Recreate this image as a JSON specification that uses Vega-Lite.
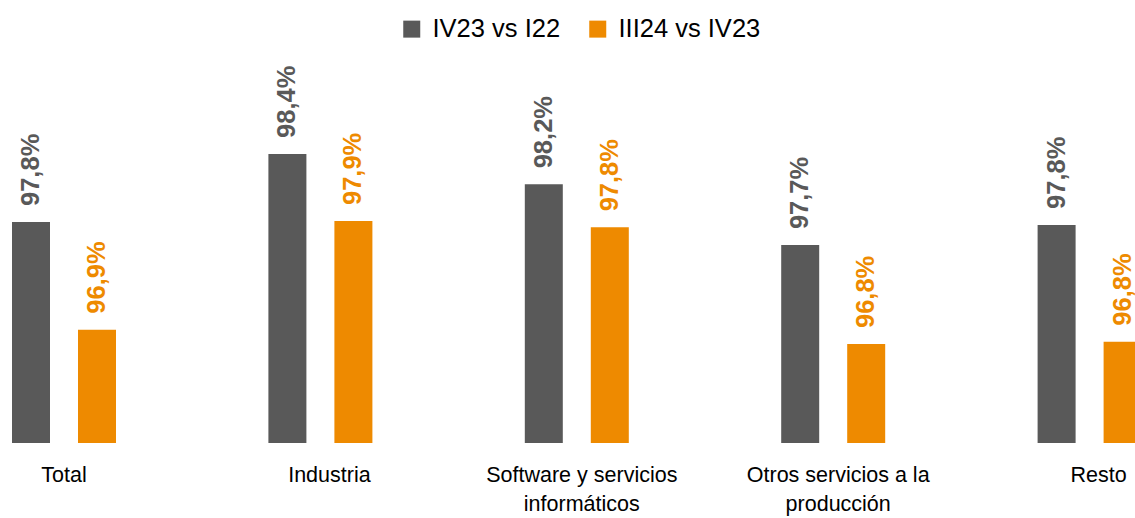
{
  "$schema": "https://vega.github.io/schema/vega-lite/v6.json",
  "autosize": {"type": "none"},
  "padding": {"left": 0, "top": 60, "right": 0, "bottom": 75},
  "width": 1135,
  "height": 383,
  "background": "white",
  "config": {"view": {"stroke": null}},
  "data": {
    "values": [
      {"cat": "Total", "serie": "IV23 vs I22", "v": 97.815, "label": "97,8%"},
      {"cat": "Total", "serie": "III24 vs IV23", "v": 96.906, "label": "96,9%"},
      {"cat": "Industria", "serie": "IV23 vs I22", "v": 98.389, "label": "98,4%"},
      {"cat": "Industria", "serie": "III24 vs IV23", "v": 97.823, "label": "97,9%"},
      {"cat": "Software y servicios informáticos", "serie": "IV23 vs I22", "v": 98.133, "label": "98,2%"},
      {"cat": "Software y servicios informáticos", "serie": "III24 vs IV23", "v": 97.77, "label": "97,8%"},
      {"cat": "Otros servicios a la producción", "serie": "IV23 vs I22", "v": 97.62, "label": "97,7%"},
      {"cat": "Otros servicios a la producción", "serie": "III24 vs IV23", "v": 96.785, "label": "96,8%"},
      {"cat": "Resto", "serie": "IV23 vs I22", "v": 97.79, "label": "97,8%"},
      {"cat": "Resto", "serie": "III24 vs IV23", "v": 96.805, "label": "96,8%"}
    ]
  },
  "encoding": {
    "x": {
      "field": "cat",
      "type": "nominal",
      "sort": ["Total", "Industria", "Software y servicios informáticos", "Otros servicios a la producción", "Resto"],
      "scale": {"range": [-64.2, 1217.8], "paddingInner": 0.0796, "paddingOuter": 0.0398},
      "axis": {
        "title": null,
        "domain": false,
        "ticks": false,
        "labelAngle": 0,
        "labelFont": "Liberation Sans",
        "labelFontSize": 21.5,
        "labelColor": "#000000",
        "labelPadding": 21,
        "labelLineHeight": 29,
        "labelLimit": 0,
        "labelOverlap": false,
        "labelBound": false,
        "labelBaseline": "top",
        "labelOffset": {
          "condition": [
            {"test": "datum.value == 'Total'", "value": 0},
            {"test": "datum.value == 'Industria' || datum.value == 'Resto'", "value": 9}
          ],
          "value": 5
        },
        "labelExpr": "datum.value == 'Software y servicios informáticos' ? ['Software y servicios', 'informáticos'] : datum.value == 'Otros servicios a la producción' ? ['Otros servicios a la', 'producción'] : datum.value"
      }
    },
    "xOffset": {
      "field": "serie",
      "type": "nominal",
      "sort": ["IV23 vs I22", "III24 vs IV23"],
      "scale": {"paddingInner": 0.4242, "paddingOuter": 1}
    },
    "y": {
      "field": "v",
      "type": "quantitative",
      "scale": {"domain": [95.95, 99.182], "nice": false, "zero": false},
      "axis": null
    },
    "color": {
      "field": "serie",
      "type": "nominal",
      "sort": ["IV23 vs I22", "III24 vs IV23"],
      "scale": {"domain": ["IV23 vs I22", "III24 vs IV23"], "range": ["#595959", "#EE8A00"]}
    }
  },
  "layer": [
    {
      "mark": {"type": "bar"},
      "encoding": {
        "y2": {"datum": 95.95},
        "color": {
          "field": "serie",
          "type": "nominal",
          "sort": ["IV23 vs I22", "III24 vs IV23"],
          "legend": {
            "title": null,
            "orient": "none",
            "direction": "horizontal",
            "legendX": 399,
            "legendY": -44,
            "padding": 0,
            "symbolType": "square",
            "symbolSize": 289,
            "symbolStrokeWidth": 0,
            "labelFont": "Liberation Sans",
            "labelFontSize": 25.5,
            "labelColor": "#000000",
            "labelOffset": 8,
            "labelLimit": 300,
            "columnPadding": 24
          }
        }
      }
    },
    {
      "mark": {
        "type": "text",
        "angle": 270,
        "align": "left",
        "baseline": "middle",
        "dx": 16,
        "font": "Liberation Sans",
        "fontWeight": "bold",
        "fontSize": 25.5
      },
      "encoding": {
        "text": {"field": "label", "type": "nominal"},
        "color": {
          "field": "serie",
          "type": "nominal",
          "sort": ["IV23 vs I22", "III24 vs IV23"],
          "legend": null
        }
      }
    }
  ]
}
